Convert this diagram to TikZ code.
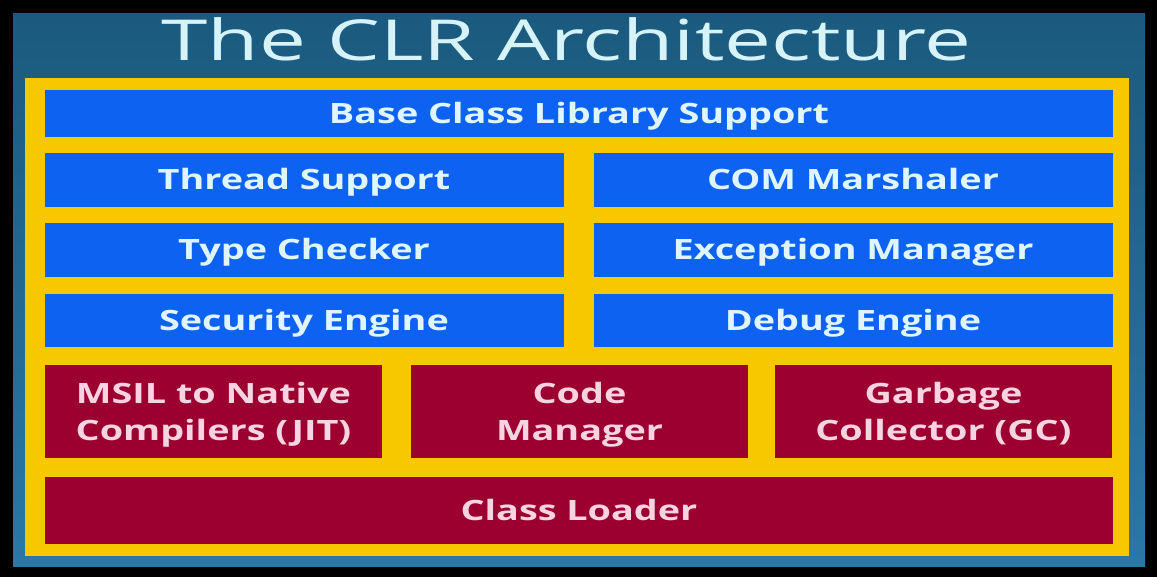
\documentclass[tikz,border=0pt]{standalone}
\usepackage{fontspec}
\setmainfont{Open Sans}
\newfontfamily\boxfont[FakeStretch=1.35]{Open Sans}
\newfontfamily\titlefont[FakeStretch=1.48]{Open Sans}
\definecolor{panelblue}{HTML}{1B5A7E}
\definecolor{panellight}{HTML}{2A78A6}
\definecolor{frameyellow}{HTML}{F7C800}
\definecolor{boxblue}{HTML}{0D62F2}
\definecolor{boxred}{HTML}{9C0030}
\definecolor{titletext}{HTML}{D5F3F8}
\definecolor{bluetext}{HTML}{DFF5FF}
\definecolor{redtext}{HTML}{F8D3E2}

\begin{document}
\begin{tikzpicture}
[x=1pt,y=-1pt,
every node/.style={align=center,inner sep=0pt,font=\boxfont\bfseries\fontsize{28}{37}\selectfont},
bluebox/.style={fill=boxblue,text=bluetext,minimum height=54pt,text height=20pt,text depth=0pt},
redbox/.style={fill=boxred,text=redtext,minimum height=93pt,minimum width=337pt,text depth=0pt},
half/.style={minimum width=519pt}]

% frame and background
\fill[black] (0,0) rectangle (1157,577);
\shade[top color=panelblue,bottom color=panellight] (13,14) rectangle (1145,566);
\fill[frameyellow] (25,78) rectangle (1129,556);
\node[font=\titlefont\fontsize{56.5}{64}\selectfont,text=titletext,anchor=base] (title) at (566.5,61) {The CLR Architecture};

\node[bluebox,minimum width=1068pt,minimum height=47pt] (bcl) at (579,113.5) {Base Class Library Support};

\node[bluebox,half] (thread) at (304,180) {Thread Support};
\node[bluebox,half] (com) at (853,180) {COM Marshaler};
\node[bluebox,half] (type) at (304,250) {Type Checker};
\node[bluebox,half] (exc) at (853,250) {Exception Manager};
\node[bluebox,half,minimum height=53pt] (sec) at (304,320.5) {Security Engine};
\node[bluebox,half,minimum height=53pt] (debug) at (853,320.5) {Debug Engine};

\node[redbox] (jit) at (213.5,411.5) {MSIL to Native\\Compilers (JIT)};
\node[redbox] (code) at (579.5,411.5) {Code\\Manager};
\node[redbox] (gc) at (943.5,411.5) {Garbage\\Collector (GC)};

\node[redbox,minimum width=1068pt,minimum height=67pt,text height=20pt] (loader) at (579,510.5) {Class Loader};
\end{tikzpicture}
\end{document}
